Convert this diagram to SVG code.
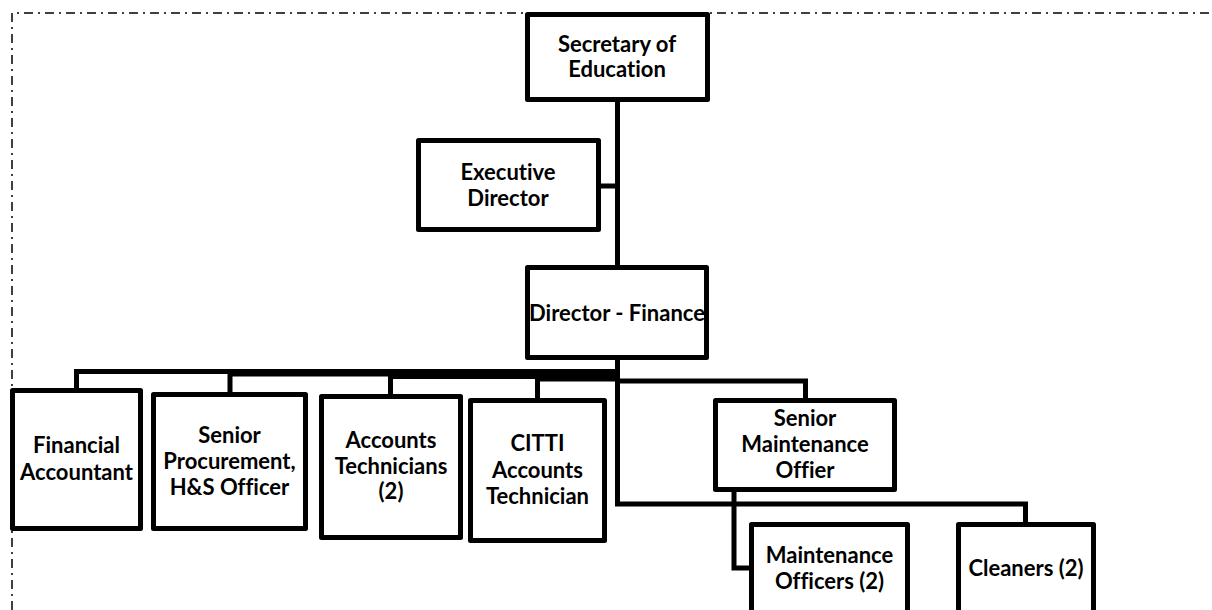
<svg xmlns="http://www.w3.org/2000/svg" width="1212" height="610" viewBox="0 0 1212 610">
  <style>
    .frame { fill: none; stroke: #000; stroke-width: 1.5; stroke-dasharray: 9 5 2 5; }
    .box { fill: #fff; stroke: #000; stroke-width: 5; stroke-linejoin: round; }
    .link { fill: none; stroke: #000; stroke-width: 5; stroke-linejoin: miter; }
    .label { font-family: Lato, "Open Sans", "Liberation Sans", sans-serif; font-weight: bold; font-size: 22px; fill: #000; text-anchor: middle; font-variant-ligatures: none; }
  </style>

  <rect width="1212" height="610" fill="#fff"/>

  <!-- dash-dot frame along the top and left edges -->
  <path class="frame" d="M12 610 V13 H1212"/>

  <!-- connectors -->
  <g id="connectors">
    <path class="link" d="M617.5 99.5 V267.5"/>
    <path class="link" d="M598.5 186 H617.5"/>
    <path class="link" d="M617.5 357.5 V504 H1025.5 V524.5"/>
    <path class="link" d="M617.5 371.5 H76.5 V390.5"/>
    <path class="link" d="M617.5 374 H230 V394.5"/>
    <path class="link" d="M617.5 376.5 H390.5 V396.5"/>
    <path class="link" d="M617.5 379 H537.5 V400.5"/>
    <path class="link" d="M617.5 381 H805.5 V400.5"/>
    <path class="link" d="M734 489.5 V568 H751.5"/>
  </g>

  <g id="secretary">
    <rect class="box" x="527.5" y="14.5" width="180" height="85"/>
    <text class="label" x="617" y="52">Secretary of</text>
    <text class="label" x="617" y="77">Education</text>
  </g>

  <g id="executive-director">
    <rect class="box" x="418.5" y="140.5" width="180" height="89"/>
    <text class="label" x="508" y="180">Executive</text>
    <text class="label" x="508" y="206">Director</text>
  </g>

  <g id="director-finance">
    <rect class="box" x="527.5" y="267.5" width="179" height="90"/>
    <text class="label" x="617" y="321">Director - Finance</text>
  </g>

  <g id="financial-accountant">
    <rect class="box" x="12.5" y="390.5" width="128" height="138"/>
    <text class="label" x="76.5" y="453">Financial</text>
    <text class="label" x="76.5" y="480">Accountant</text>
  </g>

  <g id="senior-procurement">
    <rect class="box" x="153.5" y="394.5" width="152" height="134"/>
    <text class="label" x="229.5" y="443">Senior</text>
    <text class="label" x="229.5" y="469">Procurement,</text>
    <text class="label" x="229.5" y="495">H&amp;S Officer</text>
  </g>

  <g id="accounts-technicians">
    <rect class="box" x="321.5" y="396.5" width="139" height="141"/>
    <text class="label" x="391" y="448">Accounts</text>
    <text class="label" x="391" y="474">Technicians</text>
    <text class="label" x="391" y="499">(2)</text>
  </g>

  <g id="citti-accounts-technician">
    <rect class="box" x="470.5" y="400.5" width="134" height="140"/>
    <text class="label" x="537.5" y="451">CITTI</text>
    <text class="label" x="537.5" y="478">Accounts</text>
    <text class="label" x="537.5" y="504">Technician</text>
  </g>

  <g id="senior-maintenance">
    <rect class="box" x="715.5" y="400.5" width="179" height="89"/>
    <text class="label" x="805" y="426">Senior</text>
    <text class="label" x="805" y="452">Maintenance</text>
    <text class="label" x="805" y="478">Offier</text>
  </g>

  <g id="maintenance-officers">
    <rect class="box" x="751.5" y="524.5" width="156" height="120"/>
    <text class="label" x="829.5" y="563">Maintenance</text>
    <text class="label" x="829.5" y="589">Officers (2)</text>
  </g>

  <g id="cleaners">
    <rect class="box" x="958.5" y="524.5" width="135" height="120"/>
    <text class="label" x="1026" y="576">Cleaners (2)</text>
  </g>
</svg>
